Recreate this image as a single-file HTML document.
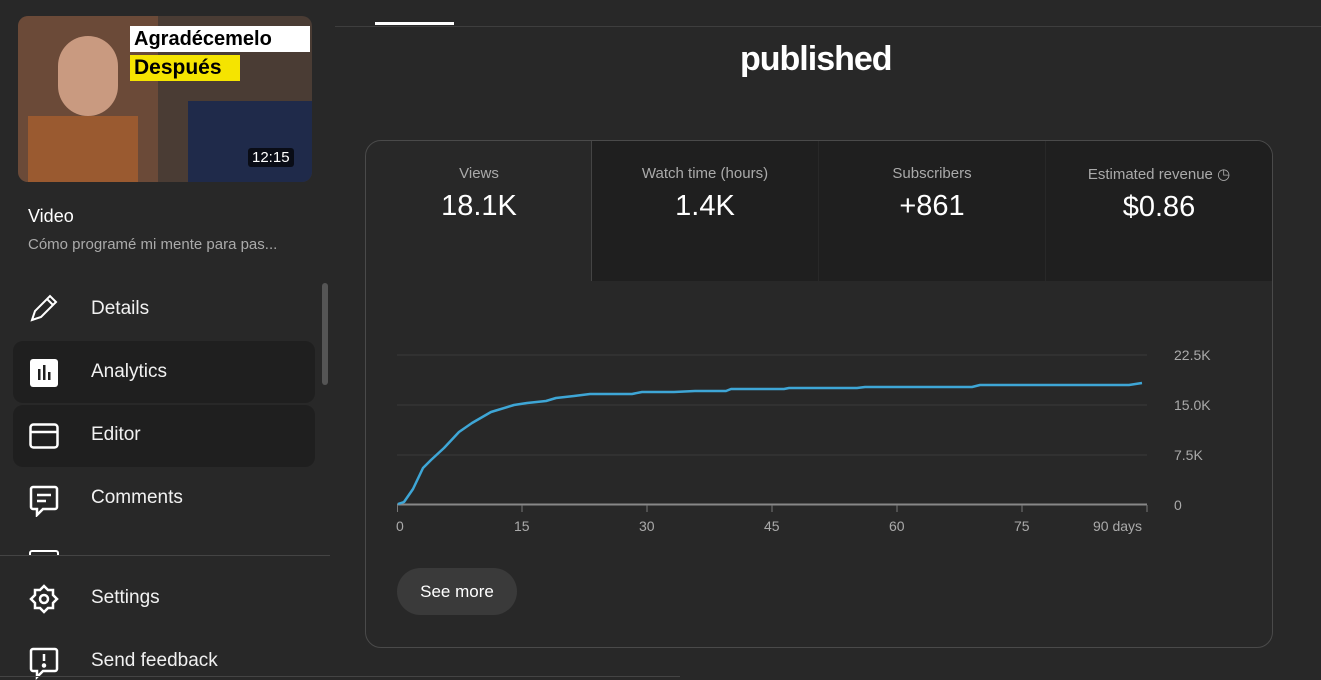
<!DOCTYPE html>
<html><head><meta charset="utf-8"><style>
*{margin:0;padding:0;box-sizing:border-box}
body{width:1321px;height:680px;background:#282828;font-family:"Liberation Sans",sans-serif;color:#fff;position:relative;overflow:hidden}
.a{position:absolute}
.nav{position:absolute;left:91px;font-size:19px;color:#f1f1f1}
.tile{position:absolute;top:141px;height:140px;text-align:center}
.tl{font-size:15px;color:#aaa;margin-top:24px}
.tv{font-size:29px;color:#fff;margin-top:8px}
.yl{position:absolute;left:1174px;font-size:14px;color:#aaa}
.xl{position:absolute;top:518px;font-size:14px;color:#aaa}
</style></head><body>
<!-- thumbnail -->
<div class="a" style="left:18px;top:16px;width:294px;height:166px;border-radius:10px;overflow:hidden;background:#4a3c34">
 <div class="a" style="left:0;top:0;width:140px;height:166px;background:#6b4a38"></div>
 <div class="a" style="left:10px;top:100px;width:110px;height:66px;background:#9a5a30"></div>
 <div class="a" style="left:40px;top:20px;width:60px;height:80px;border-radius:30px;background:#c99a80"></div>
 <div class="a" style="left:170px;top:85px;width:124px;height:81px;background:#1f2a4a"></div>
 <div class="a" style="left:112px;top:10px;width:180px;height:26px;background:#fff;color:#000;font-weight:bold;font-size:20px;padding-left:4px;line-height:26px">Agradécemelo</div>
 <div class="a" style="left:112px;top:39px;width:110px;height:26px;background:#f5e400;color:#000;font-weight:bold;font-size:21px;padding-left:4px;line-height:26px">Después</div>
 <div class="a" style="left:230px;top:132px;background:rgba(0,0,0,.7);font-size:15px;padding:1px 4px;border-radius:3px">12:15</div>
</div>
<div class="a" style="left:28px;top:206px;font-size:18px">Video</div>
<div class="a" style="left:28px;top:236px;font-size:15px;color:#aaa">Cómo programé mi mente para pas...</div>
<div class="a" style="left:322px;top:283px;width:6px;height:102px;border-radius:3px;background:#555"></div>
<div class="a" style="left:13px;top:341px;width:302px;height:62px;border-radius:10px;background:#1f1f1f"></div>
<div class="a" style="left:13px;top:405px;width:302px;height:62px;border-radius:10px;background:#1f1f1f"></div>
<!-- icons -->
<svg class="a" style="left:28px;top:292px" width="32" height="32" viewBox="0 0 32 32" fill="none" stroke="#fff" stroke-width="2"><path d="M4 28l3-9L22 4l6 6L13 25z M19 7l6 6"/></svg>
<svg class="a" style="left:30px;top:359px" width="28" height="28"><rect x="0" y="0" width="28" height="28" rx="3" fill="#fff"/><rect x="8" y="10" width="2.5" height="11" fill="#1f1f1f"/><rect x="13" y="6" width="2.5" height="15" fill="#1f1f1f"/><rect x="18" y="13" width="2.5" height="8" fill="#1f1f1f"/></svg>
<svg class="a" style="left:29px;top:423px" width="30" height="26" fill="none" stroke="#fff" stroke-width="2.5"><rect x="1.5" y="1.5" width="27" height="23" rx="3"/><line x1="1" y1="9" x2="29" y2="9"/></svg>
<svg class="a" style="left:29px;top:485px" width="30" height="32" fill="none" stroke="#fff" stroke-width="2.5"><path d="M4 2h22a2 2 0 0 1 2 2v18a2 2 0 0 1-2 2H14l-6 6v-6H4a2 2 0 0 1-2-2V4a2 2 0 0 1 2-2z"/><line x1="8" y1="10" x2="22" y2="10"/><line x1="8" y1="16" x2="17" y2="16"/></svg>
<svg class="a" style="left:29px;top:584px" width="30" height="30" fill="none" stroke="#fff" stroke-width="2.5"><circle cx="15" cy="15" r="4"/><path d="M15 2l4 4h5v5l4 4-4 4v5h-5l-4 4-4-4H6v-5l-4-4 4-4V6h5z"/></svg>
<svg class="a" style="left:29px;top:647px" width="30" height="33" fill="none" stroke="#fff" stroke-width="2.5"><path d="M4 2h22a2 2 0 0 1 2 2v18a2 2 0 0 1-2 2H14l-6 6v-6H4a2 2 0 0 1-2-2V4a2 2 0 0 1 2-2z"/><line x1="15" y1="7" x2="15" y2="14"/><circle cx="15" cy="18.5" r="1" fill="#fff"/></svg>
<div class="a" style="left:29px;top:550px;width:30px;height:5px;border:2.5px solid #fff;border-bottom:none;border-radius:3px 3px 0 0"></div>
<div class="nav" style="top:298px">Details</div>
<div class="nav" style="top:361px">Analytics</div>
<div class="nav" style="top:424px">Editor</div>
<div class="nav" style="top:487px">Comments</div>
<div class="nav" style="top:587px">Settings</div>
<div class="nav" style="top:650px">Send feedback</div>
<div class="a" style="left:0;top:555px;width:330px;height:1px;background:#444"></div>
<div class="a" style="left:0;top:676px;width:680px;height:1px;background:#444"></div>
<!-- tabs -->
<div class="a" style="left:335px;top:26px;width:986px;height:1px;background:#3e3e3e"></div>
<div class="a" style="left:375px;top:22px;width:79px;height:3px;background:#fff"></div>
<div class="a" style="left:740px;top:40px;font-size:34px;font-weight:bold;letter-spacing:-1px">published</div>
<!-- card -->
<div class="a" style="left:365px;top:140px;width:908px;height:508px;border:1px solid #4a4a4a;border-radius:16px;overflow:hidden">
</div>
<div class="tile" style="left:592px;width:226px;background:#1f1f1f"><div class="tl">Watch time (hours)</div><div class="tv">1.4K</div></div>
<div class="tile" style="left:819px;width:226px;background:#1f1f1f"><div class="tl">Subscribers</div><div class="tv">+861</div></div>
<div class="tile" style="left:1046px;width:226px;background:#1f1f1f;border-top-right-radius:15px"><div class="tl">Estimated revenue &#9719;</div><div class="tv">$0.86</div></div>
<div class="tile" style="left:366px;width:226px"><div class="tl">Views</div><div class="tv">18.1K</div></div>
<div class="a" style="left:591px;top:141px;width:1px;height:140px;background:#444"></div>
<svg class="a" style="left:0;top:0" width="1321" height="680">
<g stroke="#3a3a3a" stroke-width="1"><line x1="397" y1="355" x2="1147" y2="355"/><line x1="397" y1="405" x2="1147" y2="405"/><line x1="397" y1="455" x2="1147" y2="455"/></g>
<line x1="397" y1="504.5" x2="1147" y2="504.5" stroke="#888" stroke-width="2"/>
<g stroke="#777"><line x1="397.5" y1="505" x2="397.5" y2="512"/><line x1="522" y1="505" x2="522" y2="512"/><line x1="647" y1="505" x2="647" y2="512"/><line x1="772" y1="505" x2="772" y2="512"/><line x1="897" y1="505" x2="897" y2="512"/><line x1="1022" y1="505" x2="1022" y2="512"/><line x1="1147" y1="505" x2="1147" y2="512"/></g>
<polyline fill="none" stroke="#3ea6d6" stroke-width="2.5" stroke-linejoin="round" points="398,504 404,502 413,489 423,468 431,460 444,448 459,432 472,423 491,412 514,405 527,403 546,401 556,398 574,396 590,394 632,394 642,392 674,392 695,391 726,391 731,389 784,389 789,388 857,388 865,387 972,387 980,385 1129,385 1142,383"/>
</svg>
<div class="yl" style="top:347px">22.5K</div>
<div class="yl" style="top:397px">15.0K</div>
<div class="yl" style="top:447px">7.5K</div>
<div class="yl" style="top:497px">0</div>
<div class="xl" style="left:396px">0</div>
<div class="xl" style="left:514px">15</div>
<div class="xl" style="left:639px">30</div>
<div class="xl" style="left:764px">45</div>
<div class="xl" style="left:889px">60</div>
<div class="xl" style="left:1014px">75</div>
<div class="xl" style="left:1093px">90 days</div>
<div class="a" style="left:397px;top:568px;width:120px;height:47px;border-radius:24px;background:#3a3a3a;font-size:17px;line-height:47px;text-align:center">See more</div>
</body></html>
